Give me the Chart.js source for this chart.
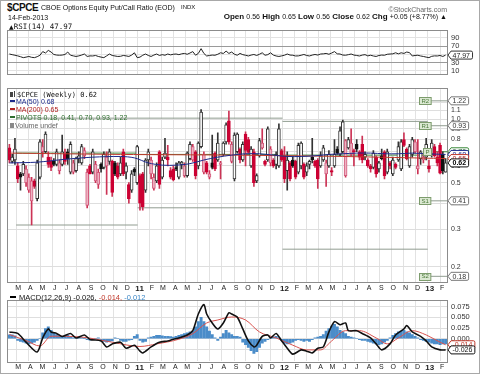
<!DOCTYPE html>
<html><head><meta charset="utf-8">
<script src="https://cdn.jsdelivr.net/npm/chart.js@4.4.1/dist/chart.umd.min.js"></script>
<style>
html,body{margin:0;padding:0;background:#fff;}
#wrap{position:relative;width:480px;height:374px;overflow:hidden;background:#fff;font-family:"Liberation Sans",Arial,sans-serif;color:#111;}
#frame{position:absolute;left:0;top:0;width:478px;height:372px;border:1px solid #a8a8a8;pointer-events:none;}
canvas{position:absolute;left:0;}
.t{position:absolute;white-space:nowrap;line-height:1;}
.mono{font-family:"DejaVu Sans Mono",monospace;}
.dash{display:inline-block;width:5px;height:2px;vertical-align:middle;margin-right:1px;position:relative;top:-1px;}
</style></head><body>
<div id="wrap">
<canvas id="rsi" width="480" height="60" style="top:22px"></canvas>
<canvas id="main" width="480" height="212" style="top:81px"></canvas>
<canvas id="macd" width="480" height="80" style="top:292px"></canvas>

<div class="t" style="left:7px;top:2.5px;font-weight:bold;font-size:10px;letter-spacing:-0.4px;">$CPCE</div>
<div class="t" style="left:41px;top:3.5px;font-size:7px;">CBOE Options Equity Put/Call Ratio (EOD)</div>
<div class="t" style="left:181px;top:4px;font-size:6px;">INDX</div>
<div class="t" style="right:33px;top:6px;font-size:7px;color:#666;">©StockCharts.com</div>
<div class="t" style="left:8px;top:14px;font-size:7px;">14-Feb-2013</div>
<div class="t" style="right:33px;top:13px;font-size:8px;"><b>Open</b> <span style="font-size:7px">0.56</span> <b>High</b> <span style="font-size:7px">0.65</span> <b>Low</b> <span style="font-size:7px">0.56</span> <b>Close</b> <span style="font-size:7px">0.62</span> <b>Chg</b> <span style="font-size:7px">+0.05 (+8.77%) ▲</span></div>

<div class="t mono" style="left:9px;top:23px;font-size:7.5px;"><span style="font-family:'DejaVu Sans';font-size:6px;font-weight:bold">▲</span>RSI(14) 47.97</div>

<div class="t mono" style="left:10px;top:91px;font-size:7px;"><span style="display:inline-block;width:3px;height:5px;background:#444;margin-right:1px"></span><span style="display:inline-block;width:1px;height:6px;background:#444;margin-right:2px"></span>$CPCE (Weekly) 0.62</div>
<div class="t" style="left:10px;top:98px;font-size:7px;color:#1d2a8c;"><span class="dash" style="background:#1d2a8c"></span>MA(50) 0.68</div>
<div class="t" style="left:10px;top:106px;font-size:7px;color:#b22222;"><span class="dash" style="background:#b22222"></span>MA(200) 0.65</div>
<div class="t" style="left:10px;top:114px;font-size:7px;color:#2e6e2e;"><span class="dash" style="background:#2e6e2e"></span>PIVOTS 0.18, 0.41, 0.70, 0.93, 1.22</div>
<div class="t" style="left:10px;top:121.5px;font-size:7px;color:#666;"><span style="display:inline-block;width:4px;height:5px;background:#888;margin-right:1px"></span>Volume undef</div>

<div class="t" style="left:10px;top:294px;font-size:7.5px;"><span class="dash" style="background:#000;width:6px"></span> MACD(12,26,9) -0.026, <span style="color:#c0392b">-0.014,</span> <span style="color:#3b86c6">-0.012</span></div>
<div id="frame"></div>
</div>
<script>
// ---- data ----
const firstWeekEnding = '2010-02-12';
const monthLabels = ['M','A','M','J','J','A','S','O','N','D','11','F','M','A','M','J','J','A','S','O','N','D','12','F','M','A','M','J','J','A','S','O','N','D','13','F'];
const firstMonth = [2010, 2];

const opens  = [.73,.63,.64,.60,.55,.55,.50,.46,.41,.51,.42,.53,.70,.70,.66,.63,.63,.61,.57,.61,.68,.70,.56,.56,.57,.65,.62,.67,.39,.60,
.56,.51,.49,.61,.59,.60,.63,.63,.62,.60,.55,.70,.56,.49,.46,.58,.50,.54,.55,.46,.64,.55,.47,.51,.70,.53,.66,.66,.57,.58,
.59,.53,.61,.54,.54,.65,.64,.70,.60,.74,.56,.62,.53,.62,.69,.64,.61,.68,.78,.98,.63,.52,.70,.72,.64,.85,.80,.60,.70,.51,
.67,.73,.63,.64,.62,.64,.61,.60,.71,.67,.57,.62,.64,.63,.56,.60,.61,.56,.61,.66,.63,.64,.60,.64,.55,.60,.57,.60,.72,.68,
.70,.54,.73,.68,.71,.76,.70,.76,.66,.64,.60,.59,.66,.58,.67,.70,.56,.62,.55,.61,.64,.58,.80,.72,.60,.68,.70,.58,.65,.64,
.66,.60,.68,.74,.66,.75,.68,.56];
const highs  = [.76,.68,.81,.62,.56,.63,.60,.55,.53,.52,.64,.80,.80,.87,.70,.66,.65,.72,.64,.84,.72,.72,.78,.64,.66,.70,.76,.73,.58,.61,
.72,.63,.58,.62,.70,.70,.72,.64,.63,.62,.66,.72,.62,.50,.57,.59,.75,.55,.56,.65,.72,.66,.55,.62,.71,.66,.81,.75,.59,.60,
.62,.63,.63,.62,.70,.78,.76,.71,.78,1.11,.70,.63,.57,.84,.70,.86,.63,.78,.96,1.09,.78,.86,.86,.73,.78,.87,.82,.74,.72,.55,
.81,.90,.64,.92,.74,.65,.70,.95,.72,.74,.70,.63,.66,.64,.77,.78,.62,.62,.64,.81,.64,.65,.70,.75,.64,.71,.59,.80,.74,.92,
.99,.80,.82,.90,.72,.80,.71,.83,.70,.65,.61,.71,.67,.63,.72,.71,.72,.63,.66,.62,.78,.80,.86,.73,.76,.82,.80,.80,.71,.68,
.81,.64,.80,.76,.70,.77,.70,.65];
const lows   = [.62,.62,.61,.50,.46,.54,.48,.45,.315,.47,.41,.52,.66,.69,.59,.57,.60,.60,.55,.60,.61,.61,.55,.55,.56,.62,.61,.65,.38,.55,
.55,.50,.47,.56,.58,.44,.61,.43,.54,.52,.54,.54,.52,.40,.45,.54,.49,.37,.37,.45,.60,.52,.46,.50,.47,.52,.65,.60,.52,.51,
.57,.52,.58,.53,.53,.64,.63,.52,.58,.73,.55,.55,.52,.58,.57,.63,.52,.67,.76,.76,.62,.51,.69,.62,.63,.60,.69,.59,.48,.50,
.66,.72,.60,.63,.60,.59,.58,.59,.63,.50,.46,.51,.59,.52,.55,.58,.52,.54,.58,.62,.59,.47,.59,.63,.48,.59,.54,.59,.68,.67,
.69,.53,.72,.67,.60,.70,.64,.62,.64,.59,.56,.58,.53,.56,.64,.52,.55,.58,.54,.58,.63,.57,.74,.64,.59,.66,.69,.55,.61,.62,
.64,.56,.66,.66,.60,.55,.55,.56];
const closes = [.64,.66,.72,.52,.53,.61,.58,.53,.51,.48,.62,.78,.74,.85,.61,.59,.61,.70,.62,.70,.63,.65,.76,.62,.65,.67,.74,.71,.56,.55,
.70,.61,.56,.58,.68,.66,.70,.45,.55,.53,.62,.55,.60,.42,.55,.56,.74,.40,.385,.64,.70,.64,.53,.60,.49,.64,.69,.64,.53,.515,
.58,.62,.625,.60,.69,.76,.74,.54,.77,1.08,.68,.56,.55,.59,.58,.77,.62,.77,.94,.78,.76,.84,.85,.64,.76,.71,.695,.72,.50,.54,
.79,.77,.61,.90,.72,.60,.68,.90,.64,.52,.64,.52,.60,.53,.75,.77,.53,.60,.63,.64,.60,.52,.67,.73,.62,.68,.56,.68,.69,.88,
.97,.79,.80,.77,.70,.72,.66,.64,.68,.60,.58,.69,.55,.62,.65,.54,.70,.60,.64,.59,.74,.78,.75,.65,.74,.80,.78,.60,.70,.66,
.76,.58,.77,.67,.62,.555,.57,.62];

const ma50Weeks  = [0,10,20,30,40,45,50,55,60,65,70,75,80,85,90,95,100,105,110,115,120,125,130,135,140,145,150,157];
const ma50Values = [.62,.625,.645,.66,.665,.655,.62,.605,.605,.615,.64,.66,.675,.685,.685,.675,.665,.665,.67,.68,.685,.69,.69,.685,.685,.69,.685,.68];
const ma200Weeks  = [0,40,80,120,157];
const ma200Values = [.69,.68,.675,.665,.65];

const pivotYearStarts = ['2010-03-01','2011-01-01','2012-01-01','2013-01-01'];
const pivotR2 = [null,null,null,1.22];
const pivotR1 = [1.01,1.01,0.975,0.93];
const pivotP  = [0.69,0.68,0.675,0.70];
const pivotS1 = [0.315,0.38,0.242,0.41];
const pivotS2 = [null,null,null,0.18];

const rsiValues = [50.6,49,47.6,46,44,41.7,43,44.6,42.5,41.7,
44,47.6,56.5,53,59.5,55.4,49.4,48,47.6,48,
49.4,55.4,47.6,46,44.6,46,48,50.6,44.6,46,
45.8,47,44.6,43,41.7,46,50.6,47,45.8,44.6,
45,47,46,44.6,48,53.6,41.7,43,47.6,50.6,
47,44.6,48,50.6,47,49,47.6,50.6,48.5,50,
50.6,49,51,52,50,53,56.5,47.6,52,63.7,
52,45.8,47,48,47.6,50,53.6,52,57.7,52,
55.4,50,47.6,52,49,47.6,45.8,48,49.4,47,
50,53.6,47.6,49,53.6,48,45.8,44.6,46,47.6,
50.6,48,47.6,45.8,46,47.6,49.4,47,45.8,48,
49.4,48,50.6,51,52,50,53,56.5,51,50.6,
48,47.6,49,50.6,48,47,45.8,48,49,46,
47.6,45.8,44.6,47,48,47.6,50,50.6,51,53.6,
51,53.6,52,55.4,54,45.8,47,47.6,45.8,44.6,
43,41.7,45,46,45.8,47,44.6,47.97];

const macdWeeks  = [0,3,6,10,12,14,15,17,19,22,24,27,29,33,35,37,40,42,45,47,48,51,54,57,59,61,64,66,68,70,71,73,75,77,79,80,82,84,86,88,89,91,93,94,96,98,100,102,105,107,109,111,113,115,117,119,121,122,125,127,130,132,134,137,139,142,143,145,148,150,152,155,157];
const macdValues = [.016,.0125,-.008,-.031,.002,.023,.016,.0125,.0055,.0125,.002,.009,-.0014,-.005,-.019,-.012,-.008,-.022,-.015,-.029,-.033,-.019,-.008,-.005,-.001,.002,.009,.019,.058,.080,.058,.037,.023,.037,.061,.058,.051,.023,-.005,-.019,-.015,.0055,.009,.002,.0125,-.005,-.022,-.036,-.026,-.029,-.033,-.022,-.019,.016,.040,.033,.037,.019,.019,.0125,.002,-.012,-.026,-.012,.009,.023,.031,.016,.0055,-.005,-.019,-.026,-.026];
const signalWeeks  = [0,6,11,15,26,37,47,53,61,66,71,75,80,85,90,96,102,107,112,116,121,126,132,136,140,145,150,155,157];
const signalValues = [.010,-.004,-.017,.006,.004,-.008,-.018,-.012,-.001,.012,.037,.044,.051,.044,.016,.002,-.015,-.026,-.026,-.005,.019,.019,.002,-.012,.002,.019,.009,-.008,-.014];
const histValues = [.009,.009,.007,
-.004,-.006,-.008,-.010,-.012,-.010,
-.008,-.004,.000,
.014,.024,.028,
.020,.014,.010,.008,.006,.006,.008,
.004,.002,.002,.004,.003,.001,-.002,-.003,-.002,.000,.002,
-.004,-.006,-.008,-.006,-.005,.002,.000,-.004,-.006,-.006,-.003,-.002,
.006,.010,
-.004,-.008,-.006,
.002,.004,.006,.008,.008,.007,.006,.006,.005,.004,.006,.008,
.010,.012,.014,.016,
.018,.028,.040,
.050,
.040,.028,.018,.010,
.002,-.004,.004,.012,.020,
.014,.010,.006,.006,.004,
-.008,-.014,-.020,-.028,-.034,-.030,-.020,-.010,
-.006,-.002,.000,.004,.006,
.002,-.004,-.010,-.012,-.010,-.008,
-.004,-.002,-.004,-.006,-.004,-.006,-.002,.002,.004,.006,
.010,.018,.024,.030,.034,
.028,.020,.016,.012,
.006,.004,.002,.000,-.002,-.004,-.004,-.006,
-.008,-.010,-.012,-.014,-.012,-.008,-.004,.002,
.008,.012,.016,.018,.020,.016,.014,.010,.006,
.002,-.002,-.004,-.006,-.008,-.010,-.012,-.012,-.014,-.012,-.012];

const mainTicks = [0.2,0.3,0.4,0.5,0.6,0.7,0.8,0.9,1.0,1.1,1.2];
const mainTickLabels = ['0.2','0.3','0.4','0.5','0.6','0.7','0.8','0.9','1.0','1.1','1.2'];
const rsiTicks = [10,20,30,40,50,60,70,80,90];
const rsiTickLabels = ['10','','30','','','','70','','90'];
const macdTicks = [-0.025,0,0.025,0.05,0.075];
const macdTickLabels = ['','0.000','0.025','0.050','0.075'];

// ---- helpers ----
const DAY = 864e5;
const t0 = Date.parse(firstWeekEnding + 'T00:00:00Z');
const weekPos = s => (Date.parse(s + 'T00:00:00Z') - t0) / (7 * DAY);
const monthTicks = monthLabels.map((_, k) => (Date.UTC(firstMonth[0], firstMonth[1] + k, 1) - t0) / (7 * DAY));
const N = closes.length;
const XMIN = -0.5, XMAX = N - 0.5;
const FONT = 'Liberation Sans';

function xAxis(showLabels) {
  return {
    type: 'linear', min: XMIN, max: XMAX, offset: false,
    grid: { color: '#e2e2e2', drawTicks: false, offset: false },
    border: { display: false },
    afterBuildTicks: s => { s.ticks = monthTicks.map(v => ({ value: v })); },
    afterFit: s => { s.height = showLabels ? 11 : 0; },
    ticks: {
      display: showLabels, autoSkip: false, maxRotation: 0, minRotation: 0, padding: 2, labelOffset: 2, color: '#222',
      font: c => { const yr = /\d/.test(monthLabels[c.index] || ''); return { family: FONT, size: yr ? 8 : 7, weight: yr ? 'bold' : 'normal' }; },
      callback: (v, i) => monthLabels[i]
    }
  };
}
function yRight(extra) {
  return Object.assign({
    position: 'right',
    afterFit: s => { s.width = 33; },
    border: { display: false },
  }, extra);
}
const framePlugin = {
  id: 'frame',
  afterDraw(chart) {
    const a = chart.chartArea, ctx = chart.ctx;
    ctx.save(); ctx.strokeStyle = '#8c8c8c'; ctx.lineWidth = 1;
    ctx.strokeRect(Math.round(a.left) - 0.5, Math.round(a.top) - 0.5, Math.round(a.right - a.left) + 1, Math.round(a.bottom - a.top) + 1);
    ctx.restore();
  }
};
function drawTag(ctx, x, y, text, o) {
  o = o || {};
  ctx.save();
  ctx.font = (o.bold ? 'bold ' : '') + (o.size || 7) + 'px "' + FONT + '"';
  const w = ctx.measureText(text).width + 7, h = 8;
  ctx.beginPath();
  ctx.moveTo(x, y); ctx.lineTo(x + 3, y - h / 2); ctx.lineTo(x + w - 1.5, y - h / 2);
  ctx.quadraticCurveTo(x + w, y - h / 2, x + w, y - h / 2 + 1.5); ctx.lineTo(x + w, y + h / 2 - 1.5);
  ctx.quadraticCurveTo(x + w, y + h / 2, x + w - 1.5, y + h / 2); ctx.lineTo(x + 3, y + h / 2); ctx.closePath();
  ctx.fillStyle = o.fill || '#fff'; ctx.fill();
  ctx.lineWidth = 1; ctx.strokeStyle = o.border || '#777'; ctx.stroke();
  ctx.fillStyle = o.color || '#333'; ctx.textBaseline = 'middle'; ctx.textAlign = 'left';
  ctx.fillText(text, x + 4.5, y + 0.5);
  ctx.restore();
}
function drawBox(ctx, xr, y, text) {
  ctx.save();
  ctx.font = '6px "' + FONT + '"';
  const w = ctx.measureText(text).width + 4, h = 7;
  const x = Math.round(xr - w) + 0.5, yy = Math.round(y - h / 2) + 0.5;
  ctx.fillStyle = '#dbe8d2'; ctx.fillRect(x, yy, w, h);
  ctx.strokeStyle = '#7d9c6d'; ctx.lineWidth = 1; ctx.strokeRect(x, yy, w, h);
  ctx.fillStyle = '#4a7a3a'; ctx.textBaseline = 'middle'; ctx.fillText(text, x + 2, y + 0.5);
  ctx.restore();
}

// ---- RSI ----
new Chart(document.getElementById('rsi'), {
  type: 'line',
  data: { datasets: [{ data: rsiValues.map((v, i) => ({ x: i, y: v })), borderColor: '#222', borderWidth: 1, pointRadius: 0, tension: 0 }] },
  options: {
    responsive: false, animation: false, devicePixelRatio: 1,
    layout: { padding: { left: 8, right: 0, top: 1, bottom: 0 } },
    plugins: { legend: { display: false }, tooltip: { enabled: false } },
    scales: {
      x: xAxis(false),
      y: yRight({
        type: 'linear', min: 3, max: 108,
        afterBuildTicks: s => { s.ticks = rsiTicks.map(v => ({ value: v })); },
        grid: { drawTicks: false, color: c => (c.tick && (c.tick.value === 30 || c.tick.value === 70)) ? '#9a9a9a' : '#e2e2e2' },
        ticks: { padding: 4, color: '#333', font: { family: FONT, size: 7.5 }, callback: (v, i) => rsiTickLabels[i] }
      })
    }
  },
  plugins: [framePlugin, {
    id: 'rsiTag',
    afterDraw(chart) {
      const y = chart.scales.y.getPixelForValue(rsiValues[N - 1]);
      drawTag(chart.ctx, chart.chartArea.right + 1, y, rsiValues[N - 1].toFixed(2), { border: '#333', color: '#222' });
    }
  }]
});

// ---- Main price ----
const higher = i => i > 0 && closes[i] >= closes[i - 1];
const up = i => closes[i] > opens[i];
const bodyFill = closes.map((c, i) => up(i) ? (higher(i) ? '#ffffff' : '#eeb3c2') : (higher(i) ? '#111111' : '#cc0033'));
const bodyLine = closes.map((c, i) => up(i) ? (higher(i) ? '#333333' : '#d25a7c') : (higher(i) ? '#111111' : '#cc0033'));
const wickCol = closes.map((c, i) => higher(i) ? '#333333' : '#cc3355');

const pivotSets = [];
const segBounds = pivotYearStarts.map((s, k) => [weekPos(s), k + 1 < pivotYearStarts.length ? weekPos(pivotYearStarts[k + 1]) : XMAX]);
[[pivotR2, '#909c90'], [pivotR1, '#909c90'], [pivotP, '#3c8a3c'], [pivotS1, '#909c90'], [pivotS2, '#909c90']].forEach(([arr, col]) => {
  arr.forEach((v, k) => {
    if (v == null) return;
    pivotSets.push({ type: 'line', data: [{ x: segBounds[k][0], y: v }, { x: segBounds[k][1], y: v }], borderColor: col, borderWidth: 1, pointRadius: 0 });
  });
});

new Chart(document.getElementById('main'), {
  type: 'bar',
  data: {
    datasets: [
      { type: 'line', data: ma50Weeks.map((w, k) => ({ x: w, y: ma50Values[k] })), borderColor: '#1d2a8c', borderWidth: 1, pointRadius: 0, tension: 0.3 },
      { type: 'line', data: ma200Weeks.map((w, k) => ({ x: w, y: ma200Values[k] })), borderColor: '#c0392b', borderWidth: 1, pointRadius: 0, tension: 0.3 },
      { type: 'bar', data: opens.map((o, i) => ({ x: i, y: [Math.min(o, closes[i]), Math.max(o, closes[i])] })),
        backgroundColor: bodyFill, borderColor: bodyLine, borderWidth: 1, borderSkipped: false, barThickness: 3, grouped: false },
      { type: 'bar', data: highs.map((h, i) => ({ x: i, y: [lows[i], h] })),
        backgroundColor: wickCol, borderWidth: 0, barThickness: 1, grouped: false },
      ...pivotSets
    ]
  },
  options: {
    responsive: false, animation: false, devicePixelRatio: 1,
    layout: { padding: { left: 8, right: 0, top: 1, bottom: 0 } },
    plugins: { legend: { display: false }, tooltip: { enabled: false } },
    scales: {
      x: xAxis(true),
      y: yRight({
        type: 'logarithmic', min: 0.1692, max: 1.385,
        afterBuildTicks: s => { s.ticks = mainTicks.map(v => ({ value: v })); },
        grid: { drawTicks: false, color: '#dedede' },
        ticks: { padding: 4, color: '#333', font: { family: FONT, size: 7 }, callback: (v, i) => mainTickLabels[i] }
      })
    }
  },
  plugins: [framePlugin, {
    id: 'mainTags',
    afterDraw(chart) {
      const ctx = chart.ctx, ys = chart.scales.y, xs = chart.scales.x, xr = chart.chartArea.right + 1;
      const bx = xs.getPixelForValue(weekPos(pivotYearStarts[3])) + 3;
      const boxes = [['R2', pivotR2[3]], ['R1', pivotR1[3]], ['P', pivotP[3]], ['S1', pivotS1[3]], ['S2', pivotS2[3]]];
      boxes.forEach(([t, v]) => drawBox(ctx, bx, ys.getPixelForValue(v), t));
      const tags = [
        [pivotR2[3], {}], [pivotR1[3], {}], [pivotP[3], { border: '#3c8a3c', color: '#2e6e2e' }],
        [ma50Values[ma50Values.length - 1], { border: '#1d2a8c', color: '#1d2a8c' }],
        [ma200Values[ma200Values.length - 1], { border: '#c0392b', color: '#b22222' }],
        [closes[N - 1], { border: '#111', color: '#000', bold: true }],
        [pivotS1[3], {}], [pivotS2[3], {}]
      ];
      tags.forEach(([v, o]) => drawTag(ctx, xr, ys.getPixelForValue(v), v.toFixed(2), o));
    }
  }]
});

// ---- MACD ----
new Chart(document.getElementById('macd'), {
  type: 'bar',
  data: {
    datasets: [
      { type: 'line', data: macdWeeks.map((w, k) => ({ x: w, y: macdValues[k] })), borderColor: '#111', borderWidth: 1.6, pointRadius: 0, tension: 0.25 },
      { type: 'line', data: signalWeeks.map((w, k) => ({ x: w, y: signalValues[k] })), borderColor: '#d9534f', borderWidth: 1, pointRadius: 0, cubicInterpolationMode: 'monotone' },
      { type: 'bar', data: histValues.map((v, i) => ({ x: i, y: v })), backgroundColor: '#4a8cc9', borderWidth: 0, barThickness: 2.3, grouped: false }
    ]
  },
  options: {
    responsive: false, animation: false, devicePixelRatio: 1,
    layout: { padding: { left: 8, right: 0, top: 1, bottom: 0 } },
    plugins: { legend: { display: false }, tooltip: { enabled: false } },
    scales: {
      x: xAxis(true),
      y: yRight({
        type: 'linear', min: -0.052, max: 0.0896,
        afterBuildTicks: s => { s.ticks = macdTicks.map(v => ({ value: v })); },
        grid: { drawTicks: false, color: '#dedede' },
        ticks: { padding: 4, color: '#333', font: { family: FONT, size: 7.5 }, callback: (v, i) => macdTickLabels[i] }
      })
    }
  },
  plugins: [framePlugin, {
    id: 'macdTags',
    afterDraw(chart) {
      const ys = chart.scales.y, xr = chart.chartArea.right + 1;
      const s = signalValues[signalValues.length - 1], m = macdValues[macdValues.length - 1];
      drawTag(chart.ctx, xr, ys.getPixelForValue(s), s.toFixed(3), { border: '#c0392b', color: '#c0392b' });
      drawTag(chart.ctx, xr, ys.getPixelForValue(m), m.toFixed(3), { border: '#111', color: '#111' });
    }
  }]
});
</script>
</body></html>
